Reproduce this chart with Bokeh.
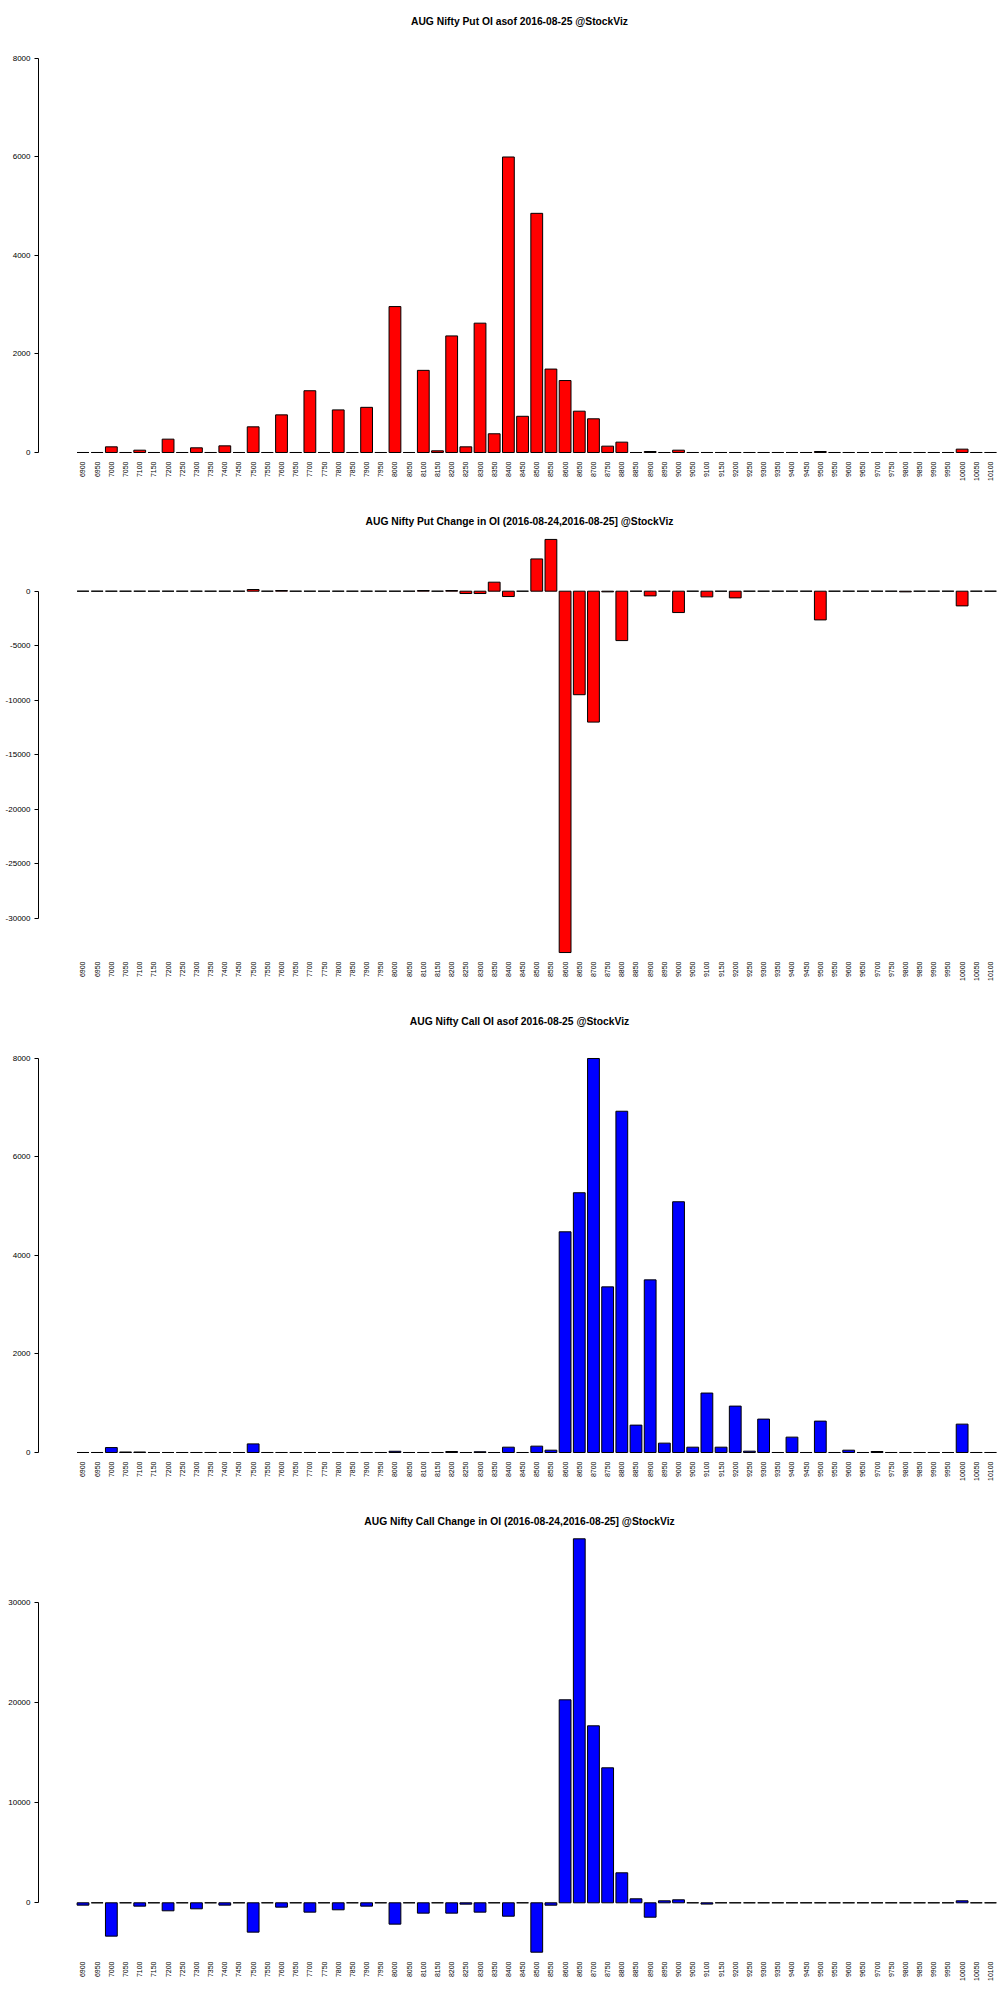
import math
from bokeh.plotting import figure
from bokeh.models import Range1d, FixedTicker, Title
from bokeh.layouts import column
from bokeh.embed import file_html
from bokeh.resources import INLINE

strikes = [6900, 6950, 7000, 7050, 7100, 7150, 7200, 7250, 7300, 7350,
           7400, 7450, 7500, 7550, 7600, 7650, 7700, 7750, 7800, 7850,
           7900, 7950, 8000, 8050, 8100, 8150, 8200, 8250, 8300, 8350,
           8400, 8450, 8500, 8550, 8600, 8650, 8700, 8750, 8800, 8850,
           8900, 8950, 9000, 9050, 9100, 9150, 9200, 9250, 9300, 9350,
           9400, 9450, 9500, 9550, 9600, 9650, 9700, 9750, 9800, 9850,
           9900, 9950, 10000, 10050, 10100]

put_oi = [0, 0, 115, 0, 47, 0, 271, 0, 95, 0,
          135, 0, 521, 0, 764, 0, 1254, 0, 865, 0,
          917, 0, 2963, 0, 1668, 34, 2367, 115, 2626, 380,
          6000, 735, 4856, 1694, 1461, 839, 684, 129, 210, 0,
          20, 0, 47, 0, 0, 0, 0, 0, 0, 0,
          0, 0, 20, 0, 0, 0, 0, 0, 0, 0,
          0, 0, 68, 0, 0]

put_chg = [0, 0, 0, 0, 0, 0, 0, 0, 0, 0,
           0, 0, 153, 0, 60, 0, 0, 0, 0, 0,
           0, 0, 0, 0, 60, 0, 60, -214, -214, 827,
           -490, 0, 2960, 4749, -33150, -9497, -12010, -60, -4531, 0,
           -430, 0, -1960, 0, -520, 0, -613, 0, 0, 0,
           0, 0, -2634, 0, 0, 0, 0, 0, -60, 0,
           0, 0, -1348, 0, 0]

call_oi = [0, 0, 100, 10, 10, 0, 0, 0, 0, 0,
           0, 0, 175, 0, 0, 0, 0, 0, 0, 0,
           0, 0, 25, 0, 0, 0, 20, 0, 15, 0,
           108, 0, 129, 47, 4481, 5274, 8000, 3363, 6929, 556,
           3505, 190, 5091, 108, 1207, 108, 942, 27, 678, 0,
           312, 0, 637, 0, 47, 0, 20, 0, 0, 0,
           0, 0, 576, 0, 0]

call_chg = [-233, 0, -3333, 0, -333, 0, -800, 0, -600, 0,
            -233, 0, -2933, 0, -433, 0, -933, 0, -700, 0,
            -333, 0, -2133, 0, -1033, 0, -1033, -133, -933, 0,
            -1340, 0, -4940, -240, 20300, 36400, 17700, 13500, 3000, 400,
            -1440, 200, 300, 0, -130, 0, 0, 0, 0, 0,
            0, 0, 0, 0, 0, 0, 0, 0, 0, 0,
            0, 0, 200, 0, 0]

titles = ["AUG Nifty Put OI asof 2016-08-25 @StockViz",
          "AUG Nifty Put Change in OI (2016-08-24,2016-08-25] @StockViz",
          "AUG Nifty Call OI asof 2016-08-25 @StockViz",
          "AUG Nifty Call Change in OI (2016-08-24,2016-08-25] @StockViz"]

oi_ticks = [0, 2000, 4000, 6000, 8000]
put_chg_ticks = [-30000, -25000, -20000, -15000, -10000, -5000, 0]
call_chg_ticks = [0, 10000, 20000, 30000]

FONT = "Liberation Sans"


def make_panel(title, values, color, y_start, y_end, yticks):
    p = figure(width=1000, height=500, output_backend="svg",
               toolbar_location=None,
               x_range=Range1d(6743.1, 10135.3),
               y_range=Range1d(y_start, y_end),
               min_border_left=38, min_border_right=0,
               min_border_top=28, min_border_bottom=45,
               outline_line_color=None, background_fill_color="white",
               border_fill_color="white")
    p.add_layout(Title(text=title, align="center", text_font=FONT,
                       text_font_size="10.3px", text_font_style="bold",
                       text_color="black", offset=-27, standoff=4), "above")
    p.vbar(x=strikes, top=values, bottom=0, width=41.6,
           fill_color=color, line_color="black", line_width=1)
    p.xgrid.visible = False
    p.ygrid.visible = False

    xa = p.xaxis[0]
    xa.ticker = FixedTicker(ticks=strikes)
    xa.major_label_overrides = {s: str(s) for s in strikes}
    xa.major_label_orientation = math.pi / 2
    xa.axis_line_color = None
    xa.major_tick_line_color = None
    xa.minor_tick_line_color = None
    xa.major_tick_out = 0
    xa.major_label_standoff = 6
    xa.major_label_text_font = FONT
    xa.major_label_text_font_size = "7px"
    xa.major_label_text_color = "black"

    ya = p.yaxis[0]
    ya.ticker = FixedTicker(ticks=yticks)
    ya.major_label_overrides = {t: str(t) for t in yticks}
    ya.bounds = (min(yticks), max(yticks))
    ya.axis_line_color = "black"
    ya.major_tick_line_color = "black"
    ya.minor_tick_line_color = None
    ya.major_tick_out = 4
    ya.major_tick_in = 0
    ya.major_label_standoff = 4
    ya.major_label_text_font = FONT
    ya.major_label_text_font_size = "8px"
    ya.major_label_text_color = "black"
    return p


p1 = make_panel(titles[0], put_oi, "#FF0000", -61, 8609, oi_ticks)
p2 = make_panel(titles[1], put_chg, "#FF0000", -33422, 5752, put_chg_ticks)
p3 = make_panel(titles[2], call_oi, "#0000FF", -61, 8609, oi_ticks)
p4 = make_panel(titles[3], call_chg, "#0000FF", -5270, 37430, call_chg_ticks)

layout = column(p1, p2, p3, p4, spacing=0)
open("out.html", "w").write(file_html(layout, INLINE))
